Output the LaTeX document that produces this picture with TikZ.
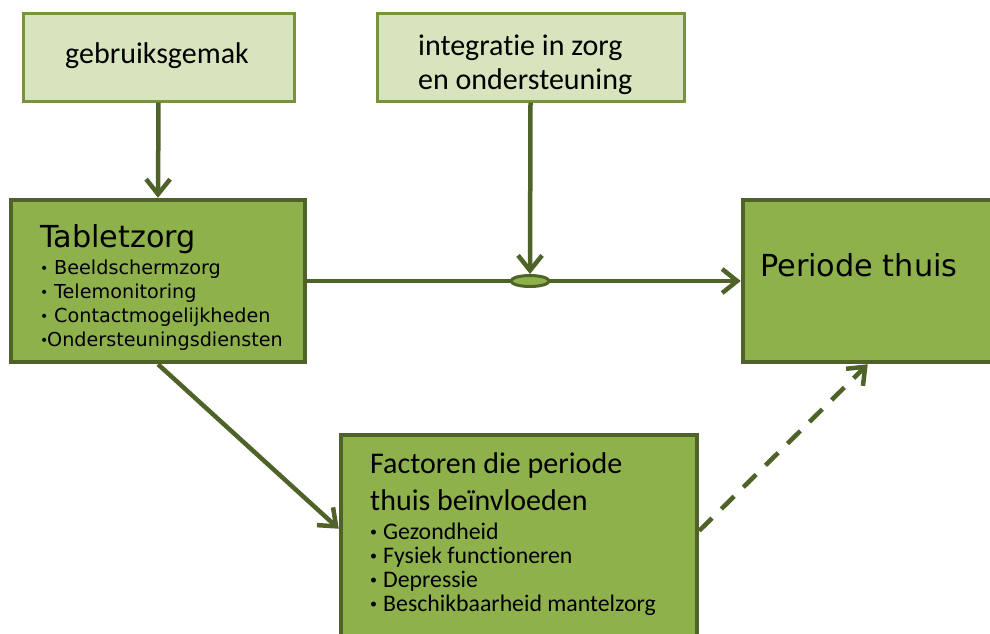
\documentclass[tikz,border=0pt]{standalone}
\usepackage{fontspec}
\setmainfont{Carlito}[Ligatures=NoCommon]
\newfontfamily\verd{DejaVu Sans}
\usetikzlibrary{arrows.meta,shapes.geometric,calc}
\definecolor{lightfill}{HTML}{D7E4BD}
\definecolor{lightline}{HTML}{77933C}
\definecolor{darkfill}{HTML}{8EB14C}
\definecolor{darkline}{HTML}{4F6228}
% small bullets followed by a fixed indent
\newcommand\ibul[1]{\makebox[#1][l]{\raisebox{2.5pt}{\fontsize{14}{14}\selectfont•}}}
\newcommand\vbul[1]{\makebox[#1][l]{\raisebox{0.3pt}{\fontsize{14}{14}\selectfont•}}}
\tikzset{
  lightbox/.style={draw=lightline, fill=lightfill, line width=3pt, rectangle, inner sep=0pt},
  darkbox/.style={draw=darkline, fill=darkfill, line width=4.5pt, rectangle, inner sep=0pt},
  headtxt/.style={anchor=base west, inner sep=0pt, font=\fontsize{30}{34}\selectfont},
  itemtxt/.style={anchor=base west, inner sep=0pt, font=\fontsize{23.8}{24}\selectfont},
  vhead/.style={anchor=base west, inner sep=0pt, font=\verd\fontsize{30.3}{34}\selectfont},
  vitem/.style={anchor=base west, inner sep=0pt, font=\verd\fontsize{19.2}{24}\selectfont},
  link/.style={draw=darkline, line width=4.5pt,
    -{Straight Barb[length=15pt,width=24pt,line width=4.5pt]}},
}
\begin{document}
\begin{tikzpicture}[x=1pt,y=-1pt]
\useasboundingbox (0,0) rectangle (990,633);
\clip (0,0) rectangle (990,633);

% upper input boxes
\node[lightbox, minimum width=271pt, minimum height=88pt] (gebr) at (158.5,57) {};
\node[headtxt] (gebrt) at (65,63) {gebruiksgemak};
\node[lightbox, minimum width=307pt, minimum height=88pt] (integ) at (530.5,57) {};
\node[headtxt] (intega) at (418,55) {integratie in zorg};
\node[headtxt] (integb) at (418,89) {en ondersteuning};

% main boxes
\node[darkbox, minimum width=294pt, minimum height=162pt] (tab) at (158,281) {};
\node[vhead] (tabt) at (40,247) {Tabletzorg};
\node[vitem] (tab1) at (40,274) {\vbul{14pt}Beeldschermzorg};
\node[vitem] (tab2) at (40,298) {\vbul{14pt}Telemonitoring};
\node[vitem] (tab3) at (40,322) {\vbul{14pt}Contactmogelijkheden};
\node[vitem] (tab4) at (40,346) {\vbul{7pt}Ondersteuningsdiensten};

\node[darkbox, minimum width=270pt, minimum height=162pt] (per) at (878,281) {};
\node[vhead] (pert) at (760,276) {Periode thuis};

\node[darkbox, minimum width=356pt, minimum height=220pt] (fac) at (519,545) {};
\node[headtxt] (faca) at (370,473) {Factoren die periode};
\node[headtxt] (facb) at (370,510) {thuis beïnvloeden};
\node[itemtxt] (fac1) at (370,539) {\ibul{13pt}Gezondheid};
\node[itemtxt] (fac2) at (370,563) {\ibul{13pt}Fysiek functioneren};
\node[itemtxt] (fac3) at (370,587) {\ibul{13pt}Depressie};
\node[itemtxt] (fac4) at (370,611) {\ibul{13pt}Beschikbaarheid mantelzorg};

% connectors
\coordinate (facin) at ($(fac.north west)+(0,96)$);
\coordinate (facout) at ($(fac.north east)+(0,98)$);
\coordinate (perin) at ($(per.south west)+(127,0)$);
\draw[link] (tab.east) -- (per.west);
\node[ellipse, draw=darkline, fill=darkfill, line width=3pt,
      minimum width=38pt, minimum height=11pt, inner sep=0pt] (mod) at (530,281) {};
\draw[link] (gebr.south) -- (tab.north);
\draw[link] (integ.south) -- (mod.north);
\draw[link] (tab.south) -- (facin);
\draw[link, dash pattern=on 18pt off 13pt] (facout) -- (perin);
\end{tikzpicture}
\end{document}
